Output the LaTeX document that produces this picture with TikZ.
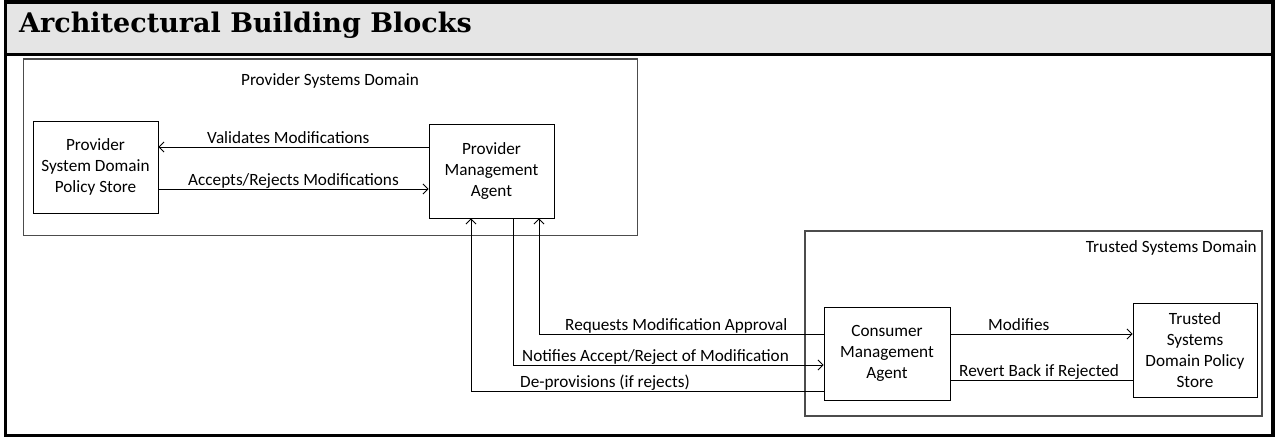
\documentclass[tikz,border=0pt]{standalone}
\usepackage{fontspec}
\setmainfont{Carlito}
\newfontfamily\titlefont{DejaVu Serif}
\usetikzlibrary{arrows.meta}

\begin{document}
\begin{tikzpicture}[x=1pt,y=-1pt,
  txt/.style={font=\fontsize{17.2}{21}\selectfont},
  block/.style={draw=black,line width=0.9pt,align=center,inner sep=0pt,txt},
  domainbox/.style={draw=black!70,line width=1.1pt,inner sep=0pt},
  link/.style={draw=black,line width=0.9pt},
  arr/.style={link,-{Straight Barb[length=5pt,width=10pt]}},
  lbl/.style={txt,inner sep=0pt,anchor=base west}]
\useasboundingbox (0,0) rectangle (1275,438);

% title band and frame
\fill[black!10] (5,2) rectangle (1273,54.5);
\draw[line width=3.5pt] (5.5,2) rectangle (1273,435.5);
\draw[line width=3pt] (5.5,54.5) -- (1273,54.5);
\node[anchor=base west,inner sep=0pt,font=\titlefont\bfseries\fontsize{27}{31}\selectfont] (title) at (19,32.5) {Architectural Building Blocks};

% domains
\node[domainbox,minimum width=614pt,minimum height=176.5pt] (pdom) at (330.5,147.25) {};
\node[txt,inner sep=0pt] (pdomlbl) at (330,81) {Provider Systems Domain};
\node[domainbox,minimum width=457pt,minimum height=185pt] (tdom) at (1033.5,323.5) {};
\node[txt,inner sep=0pt,anchor=east] (tdomlbl) at (1257,248) {Trusted Systems Domain};

% building blocks
\node[block,minimum width=125pt,minimum height=92pt] (pstore) at (95.5,167) {Provider\\System Domain\\Policy Store};
\node[block,minimum width=125pt,minimum height=94pt] (pma) at (491.5,171) {Provider\\Management\\Agent};
\node[block,minimum width=126pt,minimum height=93pt] (cma) at (887,353.5) {Consumer\\Management\\Agent};
\node[block,minimum width=124pt,minimum height=94pt] (tstore) at (1195,350) {Trusted\\Systems\\Domain Policy\\Store};

% line levels
\coordinate (yval) at (0,147);
\coordinate (yacc) at (0,189);
\coordinate (yreq) at (0,334);
\coordinate (ynot) at (0,365);
\coordinate (ydep) at (0,391);
\coordinate (yrev) at (0,380);
\coordinate (xdep) at (471,0);
\coordinate (xnot) at (513,0);
\coordinate (xreq) at (539,0);

% provider domain connectors
\draw[arr] (pma.west |- yval) -- (pstore.east |- yval);
\draw[arr] (pstore.east |- yacc) -- (pma.west |- yacc);
\node[lbl] (lval) at (207,144) {Validates Modifications};
\node[lbl] (lacc) at (188,186) {Accepts/Rejects Modifications};

% cross-domain connectors
\draw[arr] (cma.west |- yreq) -- (xreq |- yreq) -- (xreq |- pma.south);
\draw[arr] (xnot |- pma.south) -- (xnot |- ynot) -- (cma.west |- ynot);
\draw[arr] (cma.west |- ydep) -- (xdep |- ydep) -- (xdep |- pma.south);
\node[lbl] (lreq) at (565,331) {Requests Modification Approval};
\node[lbl] (lnot) at (522,362) {Notifies Accept/Reject of Modification};
\node[lbl] (ldep) at (520,388) {De-provisions (if rejects)};

% trusted domain connectors
\draw[arr] (cma.east |- yreq) -- (tstore.west |- yreq);
\draw[link] (cma.east |- yrev) -- (tstore.west |- yrev);
\node[lbl] (lmod) at (988,331) {Modifies};
\node[lbl] (lrev) at (959,377) {Revert Back if Rejected};
\end{tikzpicture}
\end{document}
